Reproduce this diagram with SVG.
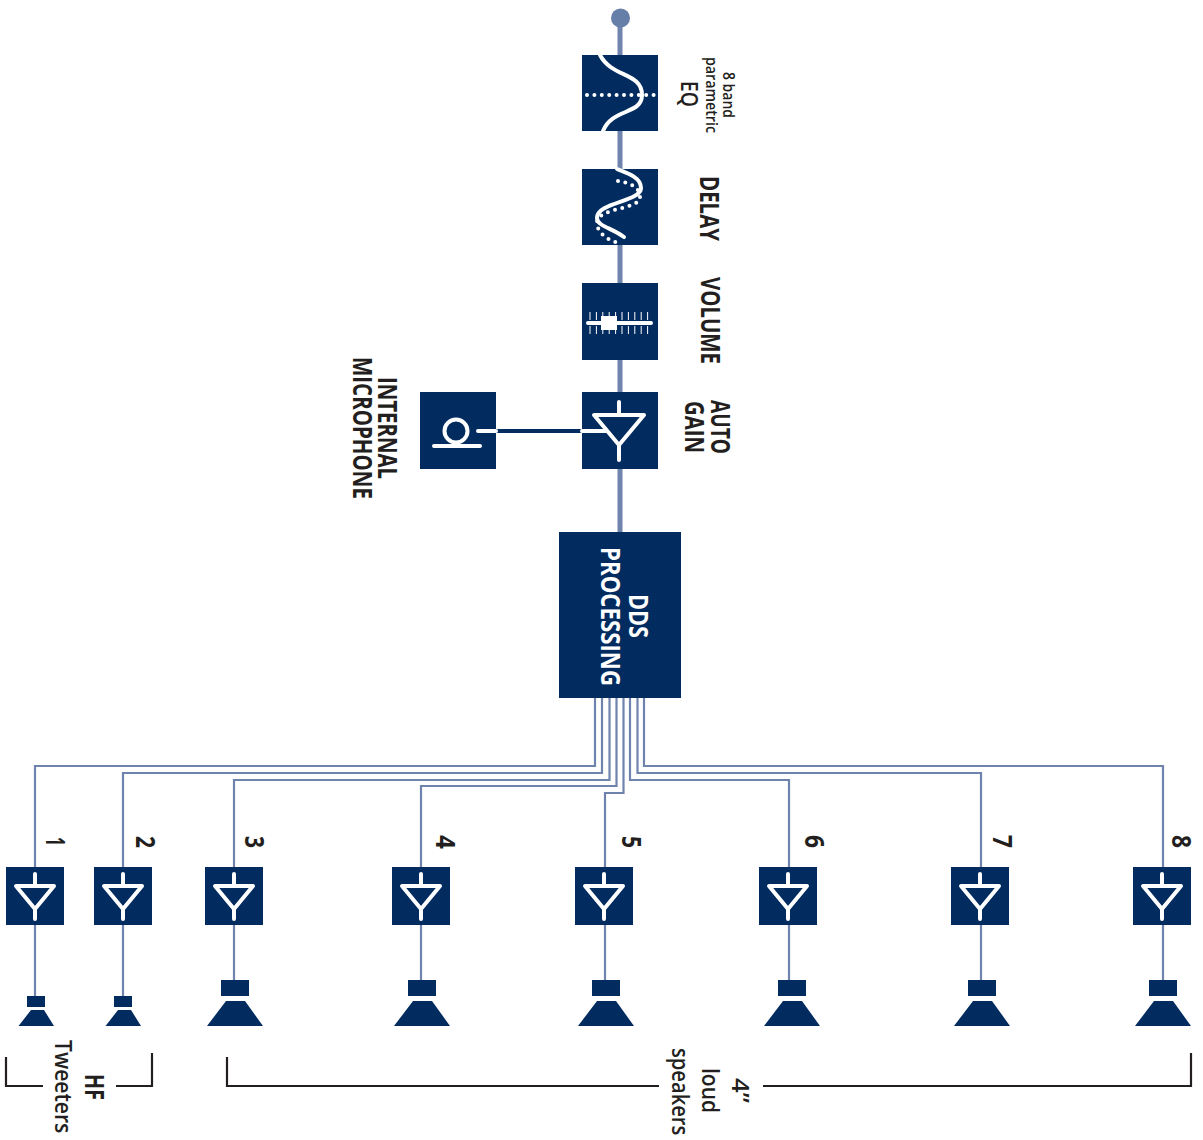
<svg xmlns="http://www.w3.org/2000/svg" width="1203" height="1140" viewBox="0 0 1203 1140">
<style>
.box{fill:#022b60}
.w{fill:none;stroke:#fff;stroke-width:4;stroke-linecap:round;stroke-linejoin:round}
.d{fill:none;stroke:#fff;stroke-width:4;stroke-linecap:round;stroke-dasharray:0 7.4}
.t{stroke:#fff;stroke-width:1;fill:none}
.wire{fill:none;stroke:#6f84ad;stroke-width:2.2}
.main{fill:none;stroke:#6f84ad;stroke-width:5}
.br{fill:none;stroke:#231f20;stroke-width:2.200}
text{font-family:"Open Sans","Liberation Sans",sans-serif;font-weight:700;fill:#231f20}
.inv{fill:#fff}
.c{font-size:27px}
.m{font-size:24px;font-weight:600}
.s{font-size:17px;font-weight:600}
</style>
<defs>
<g id="amp"><rect class="box" width="58" height="58"/><path class="w" d="M10,19H48L29,42ZM29,7V19M29,42V52"/></g>
<g id="spk-s"><rect class="box" x="-9" y="996" width="18" height="11"/><path class="box" d="M-5,1010H8L18,1026H-17.500Z"/></g>
<g id="spk-l"><rect class="box" x="-14" y="980" width="28" height="16"/><path class="box" d="M-9,1001H10L28,1026H-28Z"/></g>
</defs>
<g id="connectors">
<path class="main" d="M620,18V532"/>
<path d="M496,431H582" fill="none" stroke="#022b60" stroke-width="4"/>
<path class="wire" d="M595,698V766H35V867M35,925V996"/>
<path class="wire" d="M602,698V773H123V867M123,925V996"/>
<path class="wire" d="M609.500,698V780H234V867M234,925V980"/>
<path class="wire" d="M616.500,698V786H421V867M421,925V980"/>
<path class="wire" d="M623.500,698V793H605V867M605,925V980"/>
<path class="wire" d="M630,698V780H789V867M789,925V980"/>
<path class="wire" d="M637.500,698V773H981V867M981,925V980"/>
<path class="wire" d="M644,698V766H1163V867M1163,925V980"/>
</g>
<g id="source"><circle cx="620.500" cy="18" r="9.500" fill="#667fa9"/></g>
<g id="eq">
<rect class="box" x="582" y="55" width="76" height="76"/>
<path class="w" d="M600,55C612,78 642,72 642,95C642,115 612,108 603,131"/>
<path class="d" d="M587,95H655"/>
<text class="s" textLength="46" lengthAdjust="spacingAndGlyphs" transform="translate(723,72) rotate(90)">8 band</text>
<text class="s" textLength="76" lengthAdjust="spacingAndGlyphs" transform="translate(706,57) rotate(90)">parametric</text>
<text class="m" textLength="26" lengthAdjust="spacingAndGlyphs" transform="translate(681,81) rotate(90)">EQ</text>
</g>
<g id="delay">
<rect class="box" x="582" y="169" width="76" height="76"/>
<path class="w" d="M617,169C630,174 641,178 641,188C641,202 597,202 597,218C597,226 612,228 624,237"/>
<path class="d" d="M618,181C630,183 640,187 640,197C640,210 597,207 597,223C597,233 608,240 618,243"/>
<text class="c" textLength="65" lengthAdjust="spacingAndGlyphs" transform="translate(700,176) rotate(90)">DELAY</text>
</g>
<g id="volume">
<rect class="box" x="582" y="283" width="76" height="77"/>
<path class="t" d="M590,312V320M590,326V334M596.400,312V320M596.400,326V334M602.800,312V320M602.800,326V334M609.200,312V320M609.200,326V334M615.600,312V320M615.600,326V334M622,312V320M622,326V334M628.400,312V320M628.400,326V334M634.800,312V320M634.800,326V334M641.200,312V320M641.200,326V334M647.600,312V320M647.600,326V334"/>
<path class="w" d="M588,323H651"/>
<rect x="601" y="316" width="16" height="14" fill="#fff"/>
<text class="c" textLength="87" lengthAdjust="spacingAndGlyphs" transform="translate(701,277) rotate(90)">VOLUME</text>
</g>
<g id="auto-gain">
<rect class="box" x="582" y="392" width="76" height="77"/>
<path class="w" d="M594,415H644L619,445ZM619,402V415M619,445V460M582,431H606"/>
<text class="c" textLength="54" lengthAdjust="spacingAndGlyphs" transform="translate(711,400) rotate(90)">AUTO</text>
<text class="c" textLength="52" lengthAdjust="spacingAndGlyphs" transform="translate(685,401) rotate(90)">GAIN</text>
</g>
<g id="microphone">
<rect class="box" x="420" y="392" width="76" height="77"/>
<circle class="w" cx="456" cy="431" r="11.500"/>
<path class="w" d="M434,446H480M478,431H496"/>
<text class="c" textLength="102" lengthAdjust="spacingAndGlyphs" transform="translate(378,377) rotate(90)">INTERNAL</text>
<text class="c" textLength="142" lengthAdjust="spacingAndGlyphs" transform="translate(353,357) rotate(90)">MICROPHONE</text>
</g>
<g id="dds">
<rect class="box" x="559" y="532" width="122" height="166"/>
<text class="c inv" style="fill:#fff" textLength="44" lengthAdjust="spacingAndGlyphs" transform="translate(629,594) rotate(90)">DDS</text>
<text class="c inv" style="fill:#fff" textLength="139" lengthAdjust="spacingAndGlyphs" transform="translate(601,547) rotate(90)">PROCESSING</text>
</g>
<g id="channel-1"><use href="#amp" x="6" y="867"/><use href="#spk-s" x="36"/><text class="c" textLength="9" lengthAdjust="spacingAndGlyphs" transform="translate(46,837) rotate(90)">1</text></g>
<g id="channel-2"><use href="#amp" x="94" y="867"/><use href="#spk-s" x="123"/><text class="c" textLength="12" lengthAdjust="spacingAndGlyphs" transform="translate(136,836) rotate(90)">2</text></g>
<g id="channel-3"><use href="#amp" x="205" y="867"/><use href="#spk-l" x="235"/><text class="c" textLength="12" lengthAdjust="spacingAndGlyphs" transform="translate(245,836) rotate(90)">3</text></g>
<g id="channel-4"><use href="#amp" x="392" y="867"/><use href="#spk-l" x="422"/><text class="c" textLength="14" lengthAdjust="spacingAndGlyphs" transform="translate(436,835) rotate(90)">4</text></g>
<g id="channel-5"><use href="#amp" x="575" y="867"/><use href="#spk-l" x="606"/><text class="c" textLength="12" lengthAdjust="spacingAndGlyphs" transform="translate(622,836) rotate(90)">5</text></g>
<g id="channel-6"><use href="#amp" x="759" y="867"/><use href="#spk-l" x="792"/><text class="c" textLength="13" lengthAdjust="spacingAndGlyphs" transform="translate(805,835) rotate(90)">6</text></g>
<g id="channel-7"><use href="#amp" x="951" y="867"/><use href="#spk-l" x="982"/><text class="c" textLength="13" lengthAdjust="spacingAndGlyphs" transform="translate(993,835) rotate(90)">7</text></g>
<g id="channel-8"><use href="#amp" x="1133" y="867"/><use href="#spk-l" x="1163"/><text class="c" textLength="13" lengthAdjust="spacingAndGlyphs" transform="translate(1172,835) rotate(90)">8</text></g>
<g id="hf-tweeters">
<path class="br" d="M6,1057V1086H43M116,1086H152V1053"/>
<text class="c" textLength="26" lengthAdjust="spacingAndGlyphs" transform="translate(85,1074) rotate(90)">HF</text>
<text class="m" transform="translate(55,1040) rotate(90) scale(.88,1)">Tweeters</text>
</g>
<g id="loudspeakers">
<path class="br" d="M227,1057V1086H659M763,1086H1191V1053"/>
<text class="m" textLength="25" lengthAdjust="spacingAndGlyphs" transform="translate(732,1078) rotate(90)">4”</text>
<text class="m" textLength="45" lengthAdjust="spacingAndGlyphs" transform="translate(702,1068) rotate(90)">loud</text>
<text class="m" transform="translate(672,1048) rotate(90) scale(.84,1)">speakers</text>
</g>
</svg>
